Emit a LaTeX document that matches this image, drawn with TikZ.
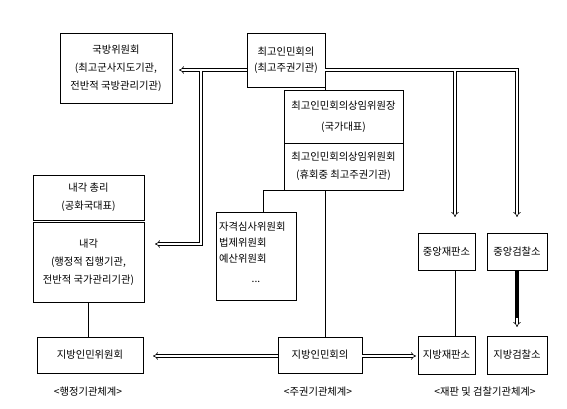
\documentclass[tikz,border=0pt]{standalone}
\usepackage{fontspec}
\setmainfont{Noto Sans CJK KR}
\usetikzlibrary{arrows.meta}
\begin{document}
\begin{tikzpicture}[x=1pt,y=-1pt,
  box/.style={draw, line width=0.7pt, inner sep=0pt, align=center, font=\fontsize{10.3}{18}\selectfont},
  conn/.style={line width=0.7pt},
  dbl/.style={double, double distance=2pt, line width=0.6pt},
  dblarr/.style={dbl, -{Implies}},
  lab/.style={inner sep=0pt, font=\fontsize{10.3}{12}\selectfont}]
\useasboundingbox (0,0) rectangle (567,409);

% boxes
\node[box, minimum width=112pt, minimum height=70pt] (gukbang) at (116,68) {국방위원회\\(최고군사지도기관,\\전반적 국방관리기관)};
\node[box, minimum width=78pt, minimum height=54pt, font=\fontsize{10.3}{16}\selectfont] (choego) at (286,60) {최고인민회의\\(최고주권기관)};
\node[box, minimum width=119pt, minimum height=53pt, font=\fontsize{10.3}{21}\selectfont] (sangimjang) at (343.5,116.5) {최고인민회의상임위원장\\(국가대표)};
\node[box, minimum width=119pt, minimum height=47pt] (sangimwi) at (343.5,166.5) {최고인민회의상임위원회\\(휴회중 최고주권기관)};
\node[box, minimum width=111pt, minimum height=45pt] (chongri) at (88.5,197.5) {내각 총리\\(공화국대표)};
\node[box, minimum width=111pt, minimum height=80pt] (naegak) at (88.5,262) {내각\\(행정적 집행기관,\\전반적 국가관리기관)};
\node[box, minimum width=80pt, minimum height=88pt] (wiwon) at (256,256) {};
\node[lab, anchor=north west, align=left, font=\fontsize{10.3}{16}\selectfont] (wiwontxt) at (219,222) {자격심사위원회\\법제위원회\\예산위원회};
\node[lab] (dots) at (256,282) {...};
\node[box, minimum width=57pt, minimum height=37pt] (jpan) at (446.5,251.5) {중앙재판소};
\node[box, minimum width=60pt, minimum height=37pt] (jgeom) at (517,251.5) {중앙검찰소};
\node[box, minimum width=106pt, minimum height=36pt] (jbwi) at (90,355) {지방인민위원회};
\node[box, minimum width=84pt, minimum height=36pt] (jbhoe) at (320,355) {지방인민회의};
\node[box, minimum width=57pt, minimum height=38pt] (jbpan) at (446.5,355) {지방재판소};
\node[box, minimum width=60pt, minimum height=38pt] (jbgeom) at (517,355) {지방검찰소};

% labels
\node[lab] (l1) at (88,392) {<행정기관체계>};
\node[lab] (l2) at (318,392) {<주권기관체계>};
\node[lab] (l3) at (485,392) {<재판 및 검찰기관체계>};

% coordinates
\coordinate (cw) at (247,70);
\coordinate (ce) at (325,70);
\coordinate (kTip) at (179,70);
\coordinate (jv) at (201,71);
\coordinate (nTip) at (155,244);
\coordinate (jgTip) at (517,217);
\coordinate (jb) at (455,71);
\coordinate (jsTip) at (455,217);
\coordinate (jgTip2) at (517,327);
\coordinate (jgThick) at (517,318);
\coordinate (lTip) at (153,356);
\coordinate (rTip) at (416,356);
\coordinate (wt) at (263,212);

% double arrows
\draw[dblarr] (cw) -- (kTip);
\draw[dblarr] (jv) |- (nTip);
\draw[dblarr] (ce) -| (jgTip);
\draw[dblarr] (jb) -- (jsTip);
\draw[dblarr] (jgeom.south) -- (jgTip2);
\draw[line width=3.2pt] (jgeom.south) -- (jgThick);
\draw[dblarr] (jbhoe.west |- lTip) -- (lTip);
\draw[dblarr] (jbhoe.east |- rTip) -- (rTip);

% plain connectors
\draw[conn] (choego.south east) -- (choego.south east |- sangimjang.north);
\draw[conn] (choego.south east |- sangimwi.south) -- (choego.south east |- jbhoe.north);
\draw[conn] (wt) |- (sangimwi.south west);
\draw[conn] (naegak.south) -- (naegak.south |- jbwi.north);
\draw[conn] (jpan.south -| jb) -- (jbpan.north -| jb);
\end{tikzpicture}
\end{document}
